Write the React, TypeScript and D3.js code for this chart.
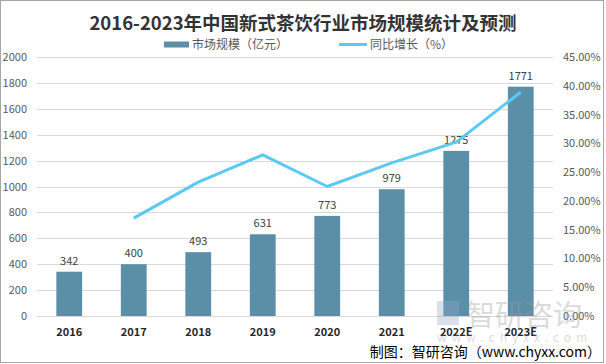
import { useEffect, useRef } from "react"
import * as d3 from "d3"

const years = ["2016", "2017", "2018", "2019", "2020", "2021", "2022E", "2023E"]
const marketSize = [342, 400, 493, 631, 773, 979, 1275, 1771]
// growth rate (%), 2016 has none
const growth = [null, 17.0, 23.25, 28.0, 22.5, 26.6, 30.2, 38.9]
const leftTicks = [0, 200, 400, 600, 800, 1000, 1200, 1400, 1600, 1800, 2000]
const rightTicks = [0, 5, 10, 15, 20, 25, 30, 35, 40, 45]

const W = 606
const H = 364
const FONT = "'Noto Sans CJK SC', 'Microsoft YaHei', sans-serif"

const App = () => {
  const ref = useRef<SVGSVGElement>(null)

  useEffect(() => {
    if (!ref.current) return
    const svg = d3.select(ref.current)
    svg.selectAll("*").remove()

    const left = 37
    const right = 553
    const top = 57
    const bottom = 316

    const x = d3.scaleBand().domain(years).range([left, right]).paddingInner(0.6).paddingOuter(0.3)
    const xc = d3.scalePoint().domain(years).range([left, right]).padding(0.5)
    const y = d3.scaleLinear().domain([0, 2000]).range([bottom, top])
    const y2 = d3.scaleLinear().domain([0, 45]).range([bottom, top])

    svg.append("rect")
      .attr("x", 0.5).attr("y", 0.5)
      .attr("width", 603).attr("height", 362)
      .attr("fill", "#fff").attr("stroke", "#a6a6a6")

    // title
    svg.append("text")
      .attr("x", 303).attr("y", 30)
      .attr("text-anchor", "middle")
      .attr("font-family", FONT).attr("font-size", 18.5).attr("font-weight", "bold")
      .attr("fill", "#333")
      .text("2016-2023年中国新式茶饮行业市场规模统计及预测")

    // legend
    const lg = svg.append("g").attr("font-family", FONT).attr("font-size", 12).attr("fill", "#595959")
    lg.append("rect").attr("x", 164).attr("y", 41.5).attr("width", 25).attr("height", 6).attr("fill", "#5b8fa8")
    lg.append("text").attr("x", 192).attr("y", 49).text("市场规模（亿元）")
    lg.append("line").attr("x1", 339).attr("x2", 367).attr("y1", 44.5).attr("y2", 44.5)
      .attr("stroke", "#5bc8f5").attr("stroke-width", 3)
    lg.append("text").attr("x", 370).attr("y", 49).text("同比增长（%）")

    // grid
    svg.append("g").selectAll("line").data(leftTicks).join("line")
      .attr("x1", left).attr("x2", right)
      .attr("y1", (d) => Math.round(y(d)) + 0.5).attr("y2", (d) => Math.round(y(d)) + 0.5)
      .attr("stroke", "#d9d9d9")

    // left axis labels
    svg.append("g").selectAll("text").data(leftTicks).join("text")
      .attr("x", 27).attr("y", (d) => y(d) + 4)
      .attr("text-anchor", "end")
      .attr("font-family", FONT).attr("font-size", 11).attr("fill", "#595959")
      .text((d) => d)

    // right axis labels
    svg.append("g").selectAll("text").data(rightTicks).join("text")
      .attr("x", 563).attr("y", (d) => y2(d) + 4)
      .attr("font-family", FONT).attr("font-size", 11).attr("fill", "#595959")
      .text((d) => d.toFixed(2) + "%")

    // bars
    svg.append("g").selectAll("rect").data(marketSize).join("rect")
      .attr("x", (_, i) => x(years[i])!)
      .attr("width", x.bandwidth())
      .attr("y", (d) => y(d))
      .attr("height", (d) => bottom - y(d))
      .attr("fill", "#5b8fa8")

    // bar labels
    svg.append("g").selectAll("text").data(marketSize).join("text")
      .attr("x", (_, i) => xc(years[i])!)
      .attr("y", (d) => y(d) - 7)
      .attr("text-anchor", "middle")
      .attr("font-family", FONT).attr("font-size", 11).attr("fill", "#404040")
      .text((d) => d)

    // category labels
    svg.append("g").selectAll("text").data(years).join("text")
      .attr("x", (d) => xc(d)!)
      .attr("y", 336)
      .attr("text-anchor", "middle")
      .attr("font-family", FONT).attr("font-size", 11).attr("font-weight", "bold").attr("fill", "#262626")
      .text((d) => d)

    // growth line
    const pts = growth.map((g, i) => ({ g, yr: years[i] })).filter((p) => p.g !== null)
    const line = d3.line<{ g: number | null; yr: string }>()
      .x((d) => xc(d.yr)!)
      .y((d) => y2(d.g as number))
    svg.append("path").datum(pts)
      .attr("d", line)
      .attr("fill", "none").attr("stroke", "#5bc8f5").attr("stroke-width", 3)
      .attr("stroke-linejoin", "round")

    // watermark
    const wm = svg.append("g").attr("opacity", 0.35).attr("font-family", FONT)
    wm.append("rect").attr("x", 437).attr("y", 301).attr("width", 22).attr("height", 24).attr("fill", "#8fa8c8")
    wm.append("text").attr("x", 466).attr("y", 326).attr("font-size", 29).attr("fill", "#9a9a9a").text("智研咨询")
    wm.append("text").attr("x", 437).attr("y", 342).attr("font-size", 12).attr("fill", "#9a9a9a")
      .attr("letter-spacing", 5).text("www.chyxx.com")

    // source
    svg.append("text")
      .attr("x", 601).attr("y", 357)
      .attr("text-anchor", "end")
      .attr("font-family", FONT).attr("font-size", 14).attr("fill", "#000")
      .text("制图：智研咨询（www.chyxx.com）")
  }, [])

  return <svg ref={ref} width={W} height={H} style={{ display: "block", position: "absolute", left: 0, top: 0 }} />
}

export default App
